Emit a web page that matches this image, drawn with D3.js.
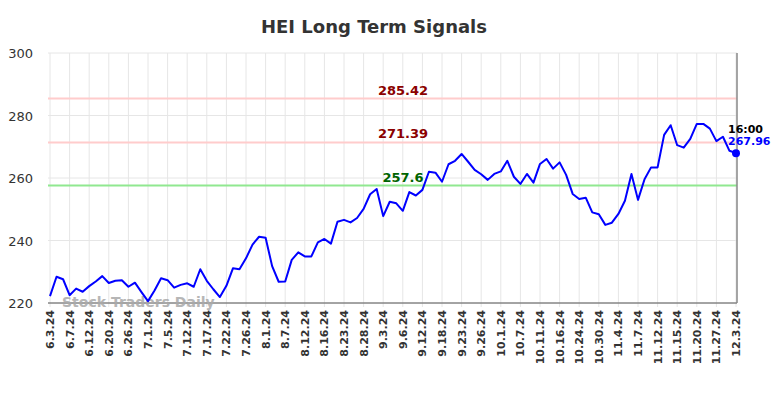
<!DOCTYPE html>
<html>
<head>
<meta charset="utf-8">
<script src="https://cdn.jsdelivr.net/npm/d3@7"></script>
<style>
  html, body { margin: 0; padding: 0; background: #fff; }
  svg { display: block; font-family: "DejaVu Sans", sans-serif; }
</style>
</head>
<body>
<svg id="chart" width="784" height="398"></svg>
<script>
const title = "HEI Long Term Signals";
const tickLabels = ["6.3.24","6.7.24","6.12.24","6.20.24","6.26.24","7.1.24","7.5.24","7.12.24","7.17.24","7.22.24","7.26.24","8.1.24","8.7.24","8.12.24","8.16.24","8.23.24","8.28.24","9.3.24","9.6.24","9.12.24","9.18.24","9.23.24","9.26.24","10.1.24","10.7.24","10.11.24","10.16.24","10.24.24","10.30.24","11.4.24","11.7.24","11.12.24","11.15.24","11.20.24","11.27.24","12.3.24"];
const prices = [222.2,228.4,227.6,222.5,224.6,223.6,225.4,226.9,228.6,226.4,227.1,227.3,225.2,226.5,223.5,220.6,224.0,227.9,227.3,224.9,225.8,226.3,225.2,230.8,227.1,224.4,221.9,225.5,231.1,230.8,234.3,238.7,241.2,240.9,231.8,226.8,226.9,233.8,236.2,234.9,234.9,239.4,240.5,239.0,246.0,246.6,245.8,247.2,250.1,254.8,256.5,247.8,252.4,251.9,249.5,255.5,254.4,256.2,262.0,261.7,258.8,264.4,265.5,267.7,265.2,262.6,261.2,259.4,261.3,262.1,265.5,260.4,258.1,261.3,258.5,264.5,266.1,263.0,265.0,261.0,254.9,253.3,253.7,249.0,248.4,245.0,245.7,248.5,252.7,261.3,253.0,259.6,263.4,263.4,273.8,276.9,270.5,269.7,272.5,277.3,277.3,275.8,271.8,273.2,268.7,267.96];
const yTicks = [220, 240, 260, 280, 300];
const signalValues = [285.42, 271.39, 257.6];
const signalLabels = ["285.42", "271.39", "257.6"];
const signalKinds = ["resistance", "resistance", "support"];
const lastTime = "16:00";
const lastLabel = "267.96";
const watermark = "Stock Traders Daily";
const pointsPerTick = 3;

const svg = d3.select("#chart");
const x = d3.scaleLinear().domain([0, prices.length - 1]).range([50, 736]);
const y = d3.scaleLinear().domain([220, 300]).range([303, 53]);
const x0 = 48, x1 = 737;

// title
svg.append("text").attr("x", 374).attr("y", 33).attr("text-anchor", "middle")
  .attr("font-size", 18).attr("font-weight", "bold").attr("fill", "#333").text(title);

// grid
const g = svg.append("g");
g.selectAll("line.hg").data(yTicks).join("line")
  .attr("x1", x0).attr("x2", x1).attr("y1", d => y(d)).attr("y2", d => y(d))
  .attr("stroke", "#e6e6e6").attr("stroke-width", 1);
g.selectAll("line.vg").data(tickLabels).join("line")
  .attr("x1", (d, i) => x(i * pointsPerTick)).attr("x2", (d, i) => x(i * pointsPerTick))
  .attr("y1", 53).attr("y2", 307)
  .attr("stroke", "#e6e6e6").attr("stroke-width", 1);

// y labels
g.selectAll("text.yl").data(yTicks).join("text")
  .attr("x", 33).attr("y", d => y(d) + 5).attr("text-anchor", "end")
  .attr("font-size", 13).attr("fill", "#333").text(d => d);

// x labels
g.selectAll("text.xl").data(tickLabels).join("text")
  .attr("transform", (d, i) => `translate(${x(i * pointsPerTick) + 4},310) rotate(-90)`)
  .attr("text-anchor", "end").attr("font-size", 11).attr("font-weight", "bold")
  .attr("fill", "#333").text(d => d);

// signal lines
signalValues.forEach((v, i) => {
  const col = signalKinds[i] === "support" ? "#90e890" : "#ffcccc";
  svg.append("line").attr("x1", x0).attr("x2", x1).attr("y1", y(v)).attr("y2", y(v))
    .attr("stroke", col).attr("stroke-width", 2);
  svg.append("text").attr("x", 403).attr("y", y(v) - 4).attr("text-anchor", "middle")
    .attr("font-size", 13).attr("font-weight", "bold")
    .attr("fill", signalKinds[i] === "support" ? "#006400" : "#8b0000").text(signalLabels[i]);
});

// axes lines
svg.append("line").attr("x1", x0).attr("x2", x1).attr("y1", 303).attr("y2", 303)
  .attr("stroke", "#555").attr("stroke-width", 1);
svg.append("line").attr("x1", x1).attr("x2", x1).attr("y1", 53).attr("y2", 303)
  .attr("stroke", "#888").attr("stroke-width", 1.5);

// watermark
svg.append("text").attr("x", 62).attr("y", 307).attr("font-size", 14).attr("font-weight", "bold")
  .attr("fill", "#aaa").attr("opacity", 0.85).text(watermark);

// price line
const line = d3.line().x((d, i) => x(i)).y(d => y(d));
svg.append("path").datum(prices).attr("d", line).attr("fill", "none")
  .attr("stroke", "#0000ff").attr("stroke-width", 2).attr("stroke-linejoin", "round");

const li = prices.length - 1;
svg.append("circle").attr("cx", x(li)).attr("cy", y(prices[li])).attr("r", 4).attr("fill", "#0000ff");
svg.append("text").attr("x", x(li) - 8).attr("y", y(prices[li]) - 20)
  .attr("font-size", 11).attr("font-weight", "bold").attr("fill", "#000").text(lastTime);
svg.append("text").attr("x", x(li) - 8).attr("y", y(prices[li]) - 8)
  .attr("font-size", 11).attr("font-weight", "bold").attr("fill", "#0000ff").text(lastLabel);
</script>
</body>
</html>
